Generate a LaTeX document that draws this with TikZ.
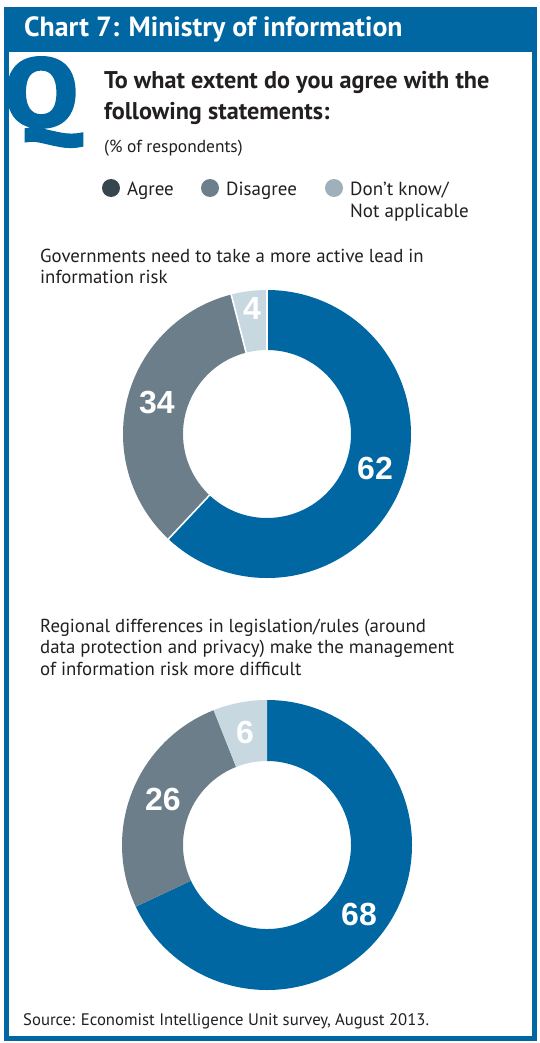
\documentclass[tikz,border=0pt]{standalone}
\usepackage{fontspec}
\setmainfont{PT Sans}
\newfontfamily\numfont{Liberation Sans}
\newfontfamily\qfont{PT Sans}[BoldFeatures={FakeBold=3}]
\definecolor{ecoblue}{HTML}{0067A3}
\definecolor{dgray}{HTML}{6B7E8A}
\definecolor{lgray}{HTML}{C8D8E1}
\definecolor{txt}{HTML}{231F20}
\definecolor{legA}{HTML}{37454F}
\definecolor{legB}{HTML}{6D7F8B}
\definecolor{legC}{HTML}{9FB0BB}
\newcommand{\seg}[5]{% color, a1, a2, R, r
  \fill[#1] (#2:#4) arc[start angle=#2, end angle=#3, radius=#4] -- (#3:#5) arc[start angle=#3, end angle=#2, radius=#5] -- cycle;}
\tikzset{
  body/.style={anchor=base west, inner sep=0pt, text=txt, font=\fontsize{18.8}{21.5}\selectfont},
  numlbl/.style={inner sep=0pt, text=white, font=\numfont\bfseries\fontsize{32}{32}\selectfont},
  legdot/.style={circle, inner sep=0pt, minimum size=18pt},
  sep/.style={white, line width=1.6pt},
}
\begin{document}
\begin{tikzpicture}[x=1pt, y=-1pt]
\useasboundingbox (0,0) rectangle (540,1043);
\fill[white] (0,0) rectangle (540,1043);
% frame
\fill[ecoblue] (4,7) rectangle (537,1041);
\fill[white] (9,52) rectangle (532,1036);
% title
\node[anchor=base west, inner sep=0pt, text=white, font=\bfseries\fontsize{27.8}{27.8}\selectfont] (title) at (24,37) {Chart 7: Ministry of information};
% Q
\node[anchor=base west, inner sep=0pt, text=ecoblue, font=\qfont\bfseries\fontsize{96}{96}\selectfont] (q) at (4,126) {\scalebox{1.15}[1]{Q}};
% question
\node[anchor=base west, inner sep=0pt, text=txt, font=\bfseries\fontsize{24.2}{31}\selectfont] (question) at (104,89) {\parbox[t]{430pt}{To what extent do you agree with the\\following statements:}};
\node[anchor=base west, inner sep=0pt, text=txt, font=\fontsize{17.4}{20}\selectfont] (resp) at (104,153) {(\% of respondents)};
% legend
\node[legdot, fill=legA] (dA) at (111,188) {};
\node[anchor=base west, inner sep=0pt, text=txt, font=\fontsize{19}{22.5}\selectfont] (lA) at (127,195) {Agree};
\node[legdot, fill=legB] (dB) at (210,188) {};
\node[anchor=base west, inner sep=0pt, text=txt, font=\fontsize{19}{22.5}\selectfont] (lB) at (226,195) {Disagree};
\node[legdot, fill=legC] (dC) at (334,188) {};
\node[anchor=base west, inner sep=0pt, text=txt, font=\fontsize{19}{22.5}\selectfont] (lC) at (350,195) {\parbox[t]{180pt}{Don’t know/\\Not applicable}};
% chart 1
\node[body] (t1) at (40,262) {\parbox[t]{480pt}{Governments need to take a more active lead in\\information risk}};
\begin{scope}[shift={(267,434)}, yscale=-1]
  \seg{ecoblue}{90}{-133.2}{144}{84}
  \seg{dgray}{-133.2}{-255.6}{144}{84}
  \seg{lgray}{-255.6}{-270}{144}{84}
  \draw[sep] (-133.2:82) -- (-133.2:146);
  \draw[sep] (-255.6:82) -- (-255.6:146);
  \draw[sep] (90:82) -- (90:146);
\end{scope}
\node[numlbl] (n62) at (375,468) {62};
\node[numlbl] (n34) at (157,403) {34};
\node[numlbl] (n4) at (252,308) {4};
% chart 2
\node[body] (t2) at (40,632) {\parbox[t]{480pt}{Regional differences in legislation/rules (around\\data protection and privacy) make the management\\of information risk more difficult}};
\begin{scope}[shift={(267,845)}, yscale=-1]
  \seg{ecoblue}{90}{-154.8}{145}{84}
  \seg{dgray}{-154.8}{-248.4}{145}{84}
  \seg{lgray}{-248.4}{-270}{145}{84}
\end{scope}
\node[numlbl] (n68) at (359,914) {68};
\node[numlbl] (n26) at (163,799) {26};
\node[numlbl] (n6) at (245,732) {6};
% source
\node[anchor=base west, inner sep=0pt, text=txt, font=\fontsize{16.7}{20}\selectfont] (src) at (23,1025) {Source: Economist Intelligence Unit survey, August 2013.};
\end{tikzpicture}
\end{document}
